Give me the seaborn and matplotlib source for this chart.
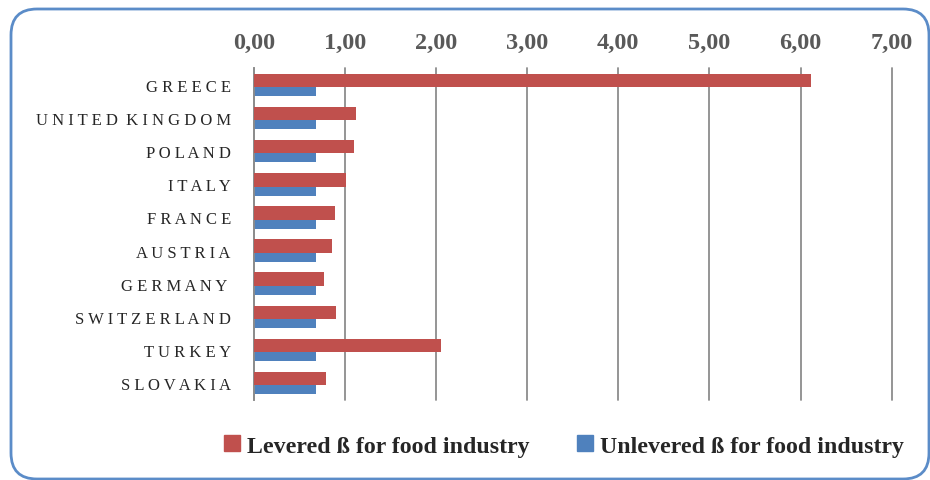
import matplotlib
matplotlib.use("Agg")
import matplotlib.pyplot as plt
import matplotlib.patches as mpatches
from matplotlib.transforms import IdentityTransform
from matplotlib.ticker import FuncFormatter
import seaborn as sns
import pandas as pd

countries = ["GREECE", "UNITED KINGDOM", "POLAND", "ITALY", "FRANCE", "AUSTRIA",
             "GERMANY ", "SWITZERLAND", "TURKEY", "SLOVAKIA"]
levered = [6.11, 1.12, 1.10, 1.01, 0.89, 0.86, 0.77, 0.90, 2.06, 0.79]
unlevered = [0.68, 0.68, 0.68, 0.68, 0.68, 0.68, 0.68, 0.68, 0.68, 0.68]
series_names = ["Levered ß for food industry", "Unlevered ß for food industry"]
x_ticks = [0, 1, 2, 3, 4, 5, 6, 7]

RED = "#C0504D"
BLUE = "#4F81BD"


def spaced(name):
    trail = " " if name.endswith(" ") else ""
    return "  ".join(" ".join(w) for w in name.split()) + trail


labels = [spaced(c) for c in countries]

df = pd.DataFrame({
    "country": labels * 2,
    "value": levered + unlevered,
    "series": [series_names[0]] * len(labels) + [series_names[1]] * len(labels),
})

sns.set_style("white")
plt.rcParams["font.family"] = ["Liberation Serif", "DejaVu Serif"]

fig = plt.figure(figsize=(9.3, 4.81), dpi=100)
ax = fig.add_axes([253.7 / 930, 1 - 400.7 / 481, (891.7 - 253.7) / 930, (400.7 - 69.3) / 481])

sns.barplot(data=df, x="value", y="country", hue="series", orient="h",
            width=0.68, palette=[RED, BLUE], saturation=1, legend=False, ax=ax,
            linewidth=0)

# make levered bars thicker, overlapping the unlevered bar beneath
red_rgba = matplotlib.colors.to_rgba(RED)
for p in ax.patches:
    fc = p.get_facecolor()
    if all(abs(a - b) < 0.02 for a, b in zip(fc, red_rgba)):
        p.set_height(0.41)
        p.set_zorder(3)
    else:
        p.set_zorder(2)

ax.set_xlim(0, 7)
ax.set_ylim(9.5, -0.5)
ax.set_xticks(x_ticks)
ax.xaxis.set_major_formatter(FuncFormatter(lambda v, pos: f"{v:.2f}".replace(".", ",")))
ax.xaxis.tick_top()
ax.tick_params(axis="x", top=False, bottom=False, labeltop=True, labelbottom=False,
               pad=7.5, labelsize=17.5, labelcolor="#595959")
for t in ax.get_xticklabels():
    t.set_fontweight("bold")
ax.tick_params(axis="y", left=False, pad=13, labelsize=12, labelcolor="#262626")
ax.set_xlabel("")
ax.set_ylabel("")
ax.xaxis.grid(True, color="#8C8C8C", linewidth=1.3)
for gl in ax.get_xgridlines():
    gl.set_clip_on(False)
ax.yaxis.grid(False)
ax.set_axisbelow(True)
for s in ["top", "right", "bottom"]:
    ax.spines[s].set_visible(False)
ax.spines["left"].set_color("#8C8C8C")
ax.spines["left"].set_linewidth(1.3)

handles = [mpatches.Patch(color=RED, label=series_names[0]),
           mpatches.Patch(color=BLUE, label=series_names[1])]
fig.legend(handles=handles, loc="center", bbox_to_anchor=(564 / 930, 1 - 447 / 481),
           ncol=2, frameon=False, prop={"family": "Liberation Serif", "weight": "bold", "size": 17.2},
           handlelength=0.65, handleheight=0.65, handletextpad=0.3, columnspacing=2.0)

border = mpatches.FancyBboxPatch((11, 1), 918, 470,
                                 boxstyle="round,pad=0,rounding_size=26",
                                 transform=IdentityTransform(), facecolor="none",
                                 edgecolor="#5B8CC8", linewidth=2)
fig.patches.append(border)

fig.savefig("out.png", dpi=100)
